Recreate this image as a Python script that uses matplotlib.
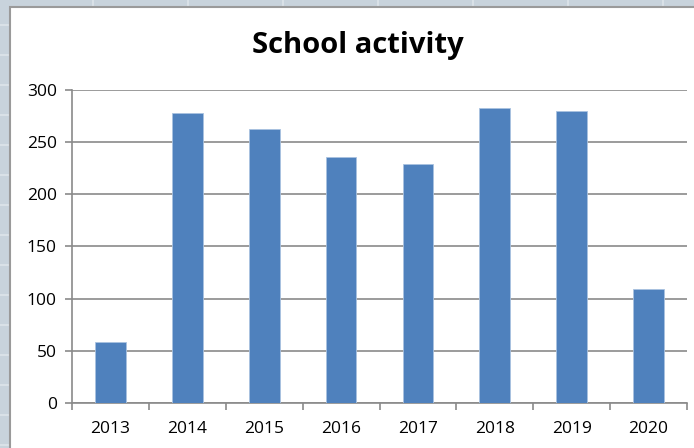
import matplotlib.pyplot as plt
from matplotlib.patches import Rectangle
from matplotlib.lines import Line2D

years = ["2013", "2014", "2015", "2016", "2017", "2018", "2019", "2020"]
activity = [58, 278, 263, 236, 229, 283, 280, 109]
y_ticks = [0, 50, 100, 150, 200, 250, 300]

W, H = 694, 448
fig = plt.figure(figsize=(W / 100, H / 100), dpi=100, facecolor="#c8d3dc")

# spreadsheet cell lines behind the chart panel
for x in range(93, W, 95):
    fig.add_artist(Line2D([x / W, x / W], [1, 0], color="#dde4ea", lw=1.2, zorder=-3))
for y in range(25, H, 30):
    fig.add_artist(Line2D([0, 1], [1 - y / H, 1 - y / H], color="#dde4ea", lw=1.2, zorder=-3))

# white chart panel with grey edge
fig.add_artist(Rectangle((10 / W, -0.01), 1, 1 - 7 / H + 0.01, transform=fig.transFigure,
                         facecolor="white", edgecolor="#9a9a9a", lw=1.5, zorder=-2))

ax = fig.add_axes([72 / W, 45 / H, 615 / W, 313 / H])
x = range(len(years))
ax.bar(x, activity, width=0.4, color="#4f81bd", edgecolor="#a9c2e0", linewidth=0.6, zorder=3)

ax.set_xlim(-0.5, len(years) - 0.5)
ax.set_ylim(0, 300)
ax.set_yticks(y_ticks)
ax.set_yticklabels([str(v) for v in y_ticks])
ax.set_xticks(list(x))
ax.set_xticklabels(years)
ax.set_xticks([i - 0.5 for i in range(len(years) + 1)], minor=True)

ax.grid(axis="y", color="#8a8a8a", lw=1.2, zorder=0)
ax.set_facecolor("white")
for side in ["top", "right"]:
    ax.spines[side].set_visible(False)
for side in ["left", "bottom"]:
    ax.spines[side].set_color("#8a8a8a")
    ax.spines[side].set_linewidth(1.2)

ax.tick_params(axis="y", length=5, width=1.2, color="#8a8a8a", labelsize=12.5, pad=6)
ax.tick_params(axis="x", which="major", length=0, labelsize=12.5, pad=13)
ax.tick_params(axis="x", which="minor", length=5, width=1.2, color="#8a8a8a")
for lbl in ax.get_xticklabels() + ax.get_yticklabels():
    lbl.set_fontfamily("Open Sans")

fig.text(358 / W, 1 - 46 / H, "School activity", ha="center", va="center",
         fontsize=21, fontweight="bold", family="Open Sans")

fig.savefig("out.png", dpi=100, facecolor=fig.get_facecolor())
